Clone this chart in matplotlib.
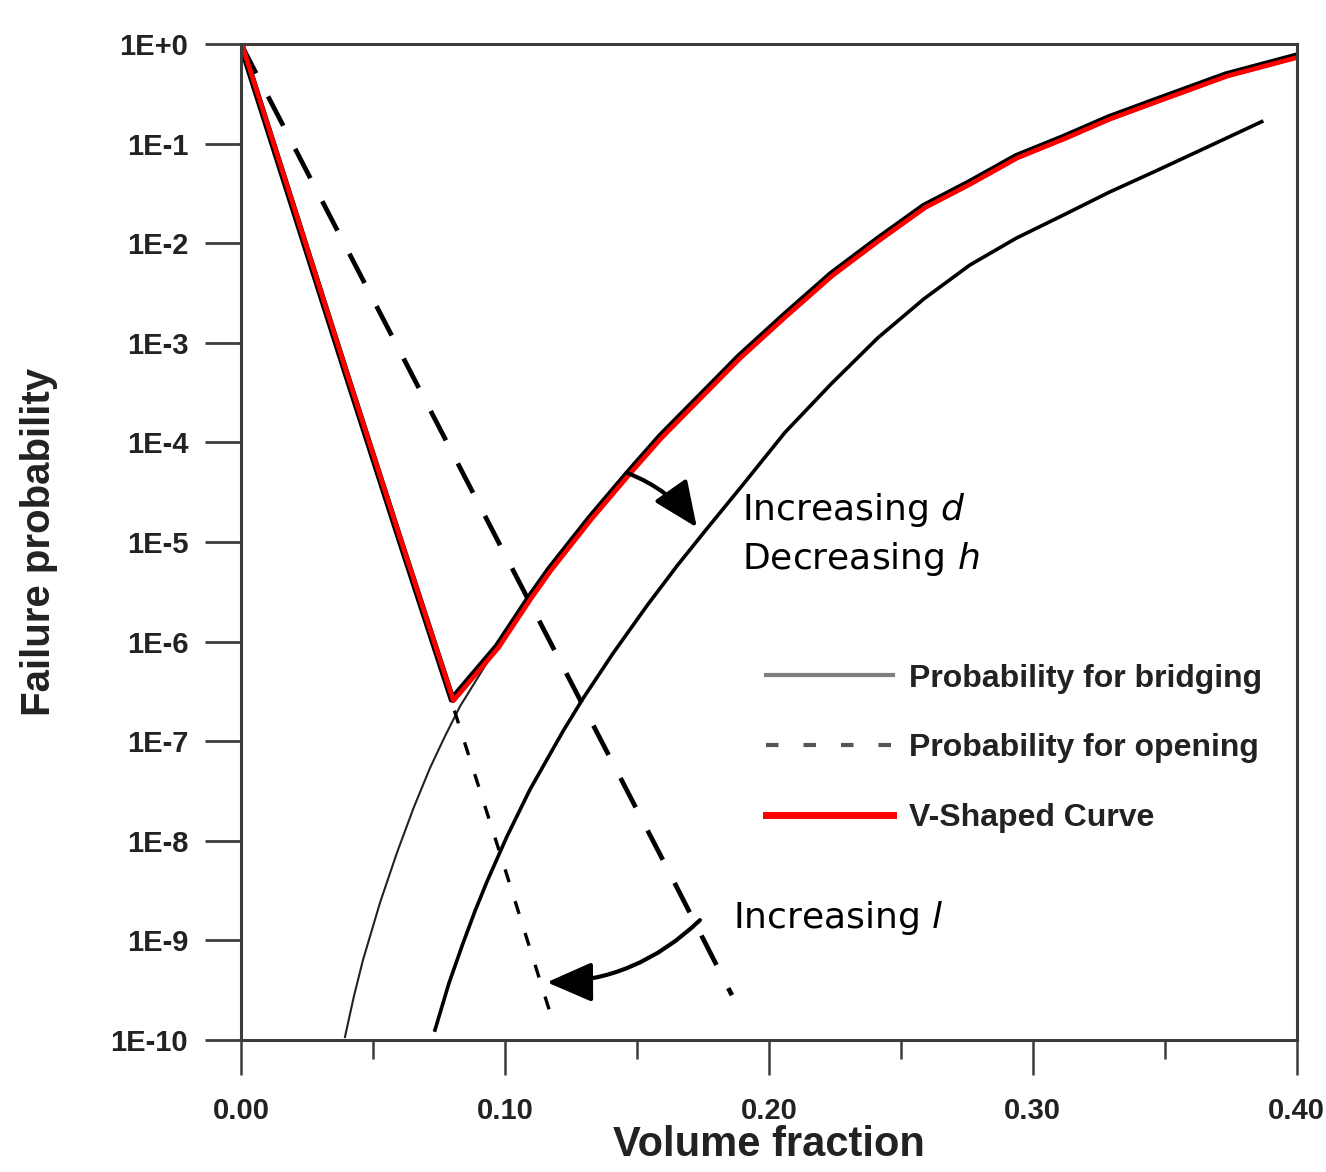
import numpy as np
import matplotlib
matplotlib.use("Agg")
import matplotlib.pyplot as plt
from matplotlib.lines import Line2D
from matplotlib.ticker import FixedLocator, NullLocator, MultipleLocator
import matplotlib.transforms as mtransforms

# values (probabilities given as log10 exponents)
opening1_x = [0.0, 0.02, 0.04, 0.06, 0.08, 0.10, 0.118]
opening1_logp = [0.0, -1.66, -3.32, -4.96, -6.62, -8.28, -9.80]

opening2_x = [0.0, 0.04, 0.08, 0.12, 0.16, 0.186]
opening2_logp = [0.0, -2.05, -4.10, -6.15, -8.20, -9.55]

bridging1_x = [0.0394, 0.0428, 0.0462, 0.0527, 0.0591, 0.0654, 0.0716, 0.0773,
               0.0830, 0.0970, 0.1095, 0.117, 0.1322, 0.1466, 0.1589, 0.1712,
               0.1887, 0.2061, 0.2237, 0.2413, 0.2587, 0.2761, 0.2937, 0.3114,
               0.3288, 0.3462, 0.3731, 0.40]
bridging1_logp = [-9.97, -9.56, -9.20, -8.62, -8.12, -7.67, -7.27, -6.95,
                  -6.65, -6.05, -5.55, -5.27, -4.76, -4.31, -3.94, -3.61,
                  -3.14, -2.72, -2.31, -1.96, -1.63, -1.39, -1.13, -0.94,
                  -0.74, -0.57, -0.31, -0.12]

bridging2_x = [0.0735, 0.0788, 0.0841, 0.0886, 0.0932, 0.1008, 0.1095, 0.1220,
               0.1295, 0.1409, 0.1538, 0.1652, 0.1761, 0.19, 0.2061, 0.2237,
               0.2413, 0.2587, 0.2761, 0.2937, 0.3114, 0.3288, 0.3462, 0.3665,
               0.3867]
bridging2_logp = [-9.90, -9.43, -9.03, -8.71, -8.41, -7.955, -7.485, -6.90,
                  -6.575, -6.12, -5.64, -5.24, -4.88, -4.43, -3.90, -3.41,
                  -2.95, -2.56, -2.22, -1.95, -1.72, -1.49, -1.28, -1.03,
                  -0.78]

vshape_x = [0.0, 0.02, 0.04, 0.06, 0.080, 0.0970, 0.1095, 0.117, 0.1322,
            0.1466, 0.1589, 0.1712, 0.1887, 0.2061, 0.2237, 0.2413, 0.2587,
            0.2761, 0.2937, 0.3114, 0.3288, 0.3462, 0.3731, 0.40]
vshape_logp = [0.0, -1.66, -3.32, -4.96, -6.58, -6.05, -5.55, -5.27, -4.76,
               -4.31, -3.94, -3.61, -3.14, -2.72, -2.31, -1.96, -1.63,
               -1.39, -1.13, -0.94, -0.74, -0.57, -0.31, -0.12]

ytick_vals = [1e0, 1e-1, 1e-2, 1e-3, 1e-4, 1e-5, 1e-6, 1e-7, 1e-8, 1e-9, 1e-10]
ytick_labels = ["1E+0", "1E-1", "1E-2", "1E-3", "1E-4", "1E-5", "1E-6", "1E-7",
                "1E-8", "1E-9", "1E-10"]
xtick_vals = [0.0, 0.1, 0.2, 0.3, 0.4]
xtick_labels = ["0.00", "0.10", "0.20", "0.30", "0.40"]


def prob(logp):
    return 10.0 ** np.asarray(logp)


plt.rcParams["font.family"] = ["Liberation Sans", "DejaVu Sans"]

fig = plt.figure(figsize=(13.26, 11.72), dpi=100)
ax = fig.add_axes([0.1817, 0.1126, 0.7963, 0.8499])

ax.plot(bridging1_x, prob(bridging1_logp), color="#222222", lw=1.5)
ax.plot(opening1_x, prob(opening1_logp), color="black", lw=2.4, linestyle=(0, (4, 6)))
ax.plot(opening2_x, prob(opening2_logp), color="black", lw=3.4, linestyle=(0, (7, 5.5)))
ax.plot(bridging2_x, prob(bridging2_logp), color="black", lw=2.6)

ax.plot(vshape_x, prob(vshape_logp), color="black", lw=5, solid_joinstyle="round")
shift = mtransforms.offset_copy(ax.transData, fig=fig, x=1.3, y=-1.3, units="dots")
ax.plot(vshape_x, prob(vshape_logp), color="red", lw=3.4, transform=shift,
        solid_joinstyle="round")

ax.set_yscale("log")
ax.set_xlim(0, 0.4)
ax.set_ylim(1e-10, 1)

ax.yaxis.set_major_locator(FixedLocator(ytick_vals))
ax.yaxis.set_minor_locator(NullLocator())
ax.set_yticklabels(ytick_labels)
ax.xaxis.set_major_locator(FixedLocator(xtick_vals))
ax.xaxis.set_minor_locator(MultipleLocator(0.05))
ax.set_xticklabels(xtick_labels)

for lab in ax.get_yticklabels() + ax.get_xticklabels():
    lab.set_fontweight("bold")
    lab.set_fontsize(21)
    lab.set_color("#222222")

ax.tick_params(axis="y", which="major", direction="out", length=26, width=2,
               pad=12, color="#3c3c3c")
ax.tick_params(axis="x", which="major", direction="out", length=25, width=1.8,
               pad=16, color="#3c3c3c")
ax.tick_params(axis="x", which="minor", direction="out", length=14, width=1.8,
               color="#3c3c3c")

for sp in ax.spines.values():
    sp.set_color("#3c3c3c")
    sp.set_linewidth(2.2)

ax.set_xlabel("Volume fraction", fontsize=30, fontweight="bold", color="#222222")
ax.set_ylabel("Failure probability", fontsize=29, fontweight="bold", color="#222222")
ax.xaxis.set_label_coords(0.5, -0.085)
ax.yaxis.set_label_coords(-0.173, 0.5)

# legend with proxy handles
handles = [
    Line2D([], [], color="#7f7f7f", lw=3),
    Line2D([], [], color="#555555", lw=3, linestyle=(0, (3, 6))),
    Line2D([], [], color="red", lw=5),
]
labels = ["Probability for bridging", "Probability for opening", "V-Shaped Curve"]
leg = ax.legend(handles, labels, loc="upper left", bbox_to_anchor=(0.497, 0.378),
                frameon=False, handlelength=4.0, handletextpad=0.5,
                labelspacing=1.25, borderpad=0, borderaxespad=0,
                prop={"weight": "bold", "size": 23})
for t in leg.get_texts():
    t.set_color("#222222")

# annotations
txt_font = {"family": "DejaVu Sans", "size": 26}
ax.text(0.1898, 10 ** -4.78, "Increasing $d$", ha="left", va="baseline", **txt_font)
ax.text(0.1898, 10 ** -5.27, "Decreasing $h$", ha="left", va="baseline", **txt_font)
ax.text(0.1864, 10 ** -8.88, "Increasing $l$", ha="left", va="baseline", **txt_font)

head = "-|>,head_length=0.8,head_width=0.35"
ax.annotate("", xy=(0.1727, 1.4e-5), xytext=(0.1466, 4.9e-5),
            arrowprops=dict(arrowstyle=head, mutation_scale=35, lw=3, color="black",
                            connectionstyle="arc3,rad=-0.15",
                            shrinkA=0, shrinkB=0))
ax.annotate("", xy=(0.1159, 3.8e-10), xytext=(0.1739, 1.6e-9),
            arrowprops=dict(arrowstyle=head, mutation_scale=35, lw=3, color="black",
                            connectionstyle="arc3,rad=-0.2",
                            shrinkA=0, shrinkB=0))

fig.savefig("out.png", dpi=100)
